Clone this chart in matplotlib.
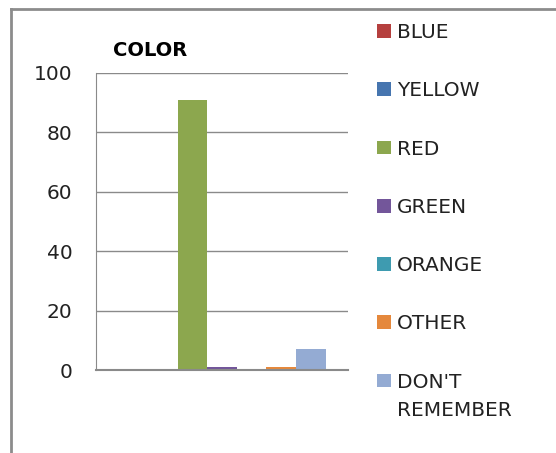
import numpy as np
from matplotlib import pyplot as plt
from matplotlib.lines import Line2D

## DATA
category = ["COLOR"]
series = ["BLUE", "YELLOW", "RED", "GREEN", "ORANGE", "OTHER", "DON'T REMEMBER"]
values = [0, 0, 91, 1, 0, 1, 7]
colors = ["#B5403E", "#4675AF", "#8CA74E", "#73569A", "#3E9BB0", "#E5883C", "#94ABD3"]
yticks = [0, 20, 40, 60, 80, 100]
## END DATA

W, H = 556, 453
fig = plt.figure(figsize=(W / 100, H / 100), dpi=100)
fig.patch.set_facecolor("white")

ax = fig.add_axes([96 / W, 1 - 370 / H, (348 - 96) / W, (370 - 73) / H])

n = len(series)
width = 1.0 / (n + 1.5)
offsets = (np.arange(n) - (n - 1) / 2) * width
handles = []
for i in range(n):
    b = ax.bar(0 + offsets[i], values[i], width, color=colors[i], label=series[i])
    handles.append(b)

ax.set_xlim(-0.5, 0.5)
ax.set_ylim(0, 100)
ax.set_yticks(yticks)
ax.set_xticks([])
ax.tick_params(axis="y", length=0, pad=17, labelsize=14.5, labelcolor="#222222")
ax.yaxis.grid(True, color="#8a8a8a", linewidth=1)
ax.set_axisbelow(True)
for s in ["top", "right"]:
    ax.spines[s].set_visible(False)
ax.spines["left"].set_color("#8a8a8a")
ax.spines["bottom"].set_color("#8a8a8a")
ax.spines["bottom"].set_linewidth(1.5)

fig.text(150 / W, 1 - 50 / H, category[0], fontsize=14, fontweight="bold",
         ha="center", va="center", color="black")

# legend: long label wraps onto a second line under the first, like Excel
labels = [s.split(" ")[0] if s.startswith("DON'T") else s for s in series]
leg = fig.legend(handles=handles, labels=labels, loc="upper left",
                 bbox_to_anchor=(377 / W, 1 - 23 / H),
                 frameon=False, fontsize=14.5, handlelength=0.68, handleheight=0.68,
                 handletextpad=0.3, labelspacing=1.95, borderaxespad=0, borderpad=0)
for t in leg.get_texts():
    t.set_color("#222222")
fig.text(397 / W, 1 - 410 / H, series[-1].split(" ", 1)[1], fontsize=14.5,
         color="#222222", ha="left", va="center")

# outer chart frame
fig.add_artist(Line2D([11 / W, 11 / W], [0, 1 - 9 / H], transform=fig.transFigure,
                      color="#8c8c8c", linewidth=2))
fig.add_artist(Line2D([11 / W, 1], [1 - 9 / H, 1 - 9 / H], transform=fig.transFigure,
                      color="#8c8c8c", linewidth=2))

plt.savefig("out.png", dpi=100)
